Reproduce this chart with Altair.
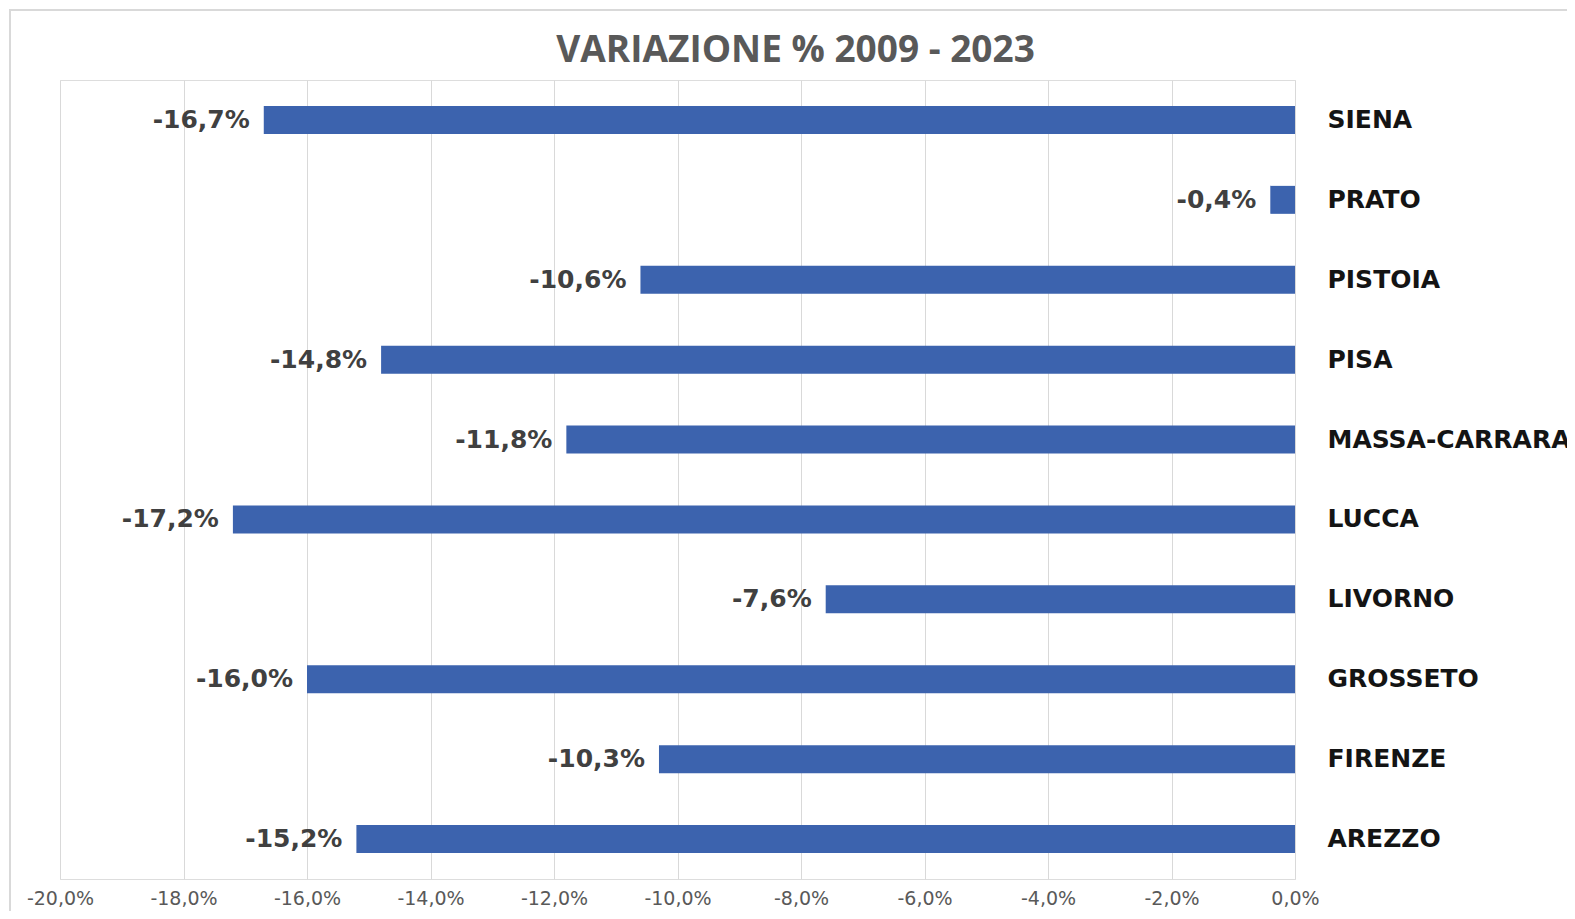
import altair as alt
import pandas as pd

province = ["SIENA", "PRATO", "PISTOIA", "PISA", "MASSA-CARRARA",
            "LUCCA", "LIVORNO", "GROSSETO", "FIRENZE", "AREZZO"]
variazione = [-0.167, -0.004, -0.106, -0.148, -0.118,
              -0.172, -0.076, -0.160, -0.103, -0.152]
x_ticks = [-0.20, -0.18, -0.16, -0.14, -0.12, -0.10, -0.08, -0.06, -0.04, -0.02, 0.0]

df = pd.DataFrame({"provincia": province, "variazione": variazione})

W, H = 1235, 799

y_enc = alt.Y(
    "provincia:N",
    sort=province,
    scale=alt.Scale(paddingInner=0.65, paddingOuter=0.325),
    axis=alt.Axis(
        orient="right", title=None, ticks=False, domain=False, grid=False,
        labelPadding=32, labelAlign="left", labelFont="DejaVu Sans",
        labelFontSize=25, labelFontWeight="bold", labelColor="#141414",
        labelLimit=600,
    ),
)
x_enc = alt.X(
    "variazione:Q",
    scale=alt.Scale(domain=[-0.20, 0.0], nice=False, zero=True),
    axis=alt.Axis(
        values=x_ticks, format=".1%", title=None, ticks=False, domain=False,
        labelExpr="replace(replace(datum.label, '.', ','), '\u2212', '-')",
        grid=True, gridColor="#d9d9d9", gridWidth=1,
        labelFont="DejaVu Sans", labelFontSize=19, labelColor="#595959",
        labelPadding=10, labelFlush=False,
    ),
)

frame = alt.Chart(df).mark_rect(fill=None, stroke="#d9d9d9", strokeWidth=1.5).encode(
    x=alt.value(-50), x2=alt.value(2000), y=alt.value(-70), y2=alt.value(2000)
)

bars = alt.Chart(df).mark_bar(color="#3c63ae").encode(x=x_enc, y=y_enc)

labels = alt.Chart(df).mark_text(
    align="right", baseline="middle", dx=-14, font="DejaVu Sans",
    fontSize=25, fontWeight="bold", color="#404040",
).encode(
    x=alt.X("variazione:Q"),
    y=alt.Y("provincia:N", sort=province),
    text=alt.Text("variazione:Q", format=".1%"),
)

chart = alt.layer(frame, bars, labels).properties(
    width=W, height=H,
    title=alt.TitleParams(
        "VARIAZIONE % 2009 - 2023", font="Open Sans", fontSize=37,
        fontWeight="bold", color="#595959", anchor="middle", frame="group",
        baseline="alphabetic", dx=118, dy=100, offset=10,
    ),
    autosize=alt.AutoSizeParams(type="none"),
    padding={"left": 52, "top": 72, "right": 272, "bottom": 32},
).configure_view(stroke=None).configure(
    locale={"number": {"decimal": ",", "thousands": ".", "grouping": [3],
                       "currency": ["€", ""], "minus": "-"}}
)

chart.save("out.html", embed_options={"renderer": "svg", "actions": False})
